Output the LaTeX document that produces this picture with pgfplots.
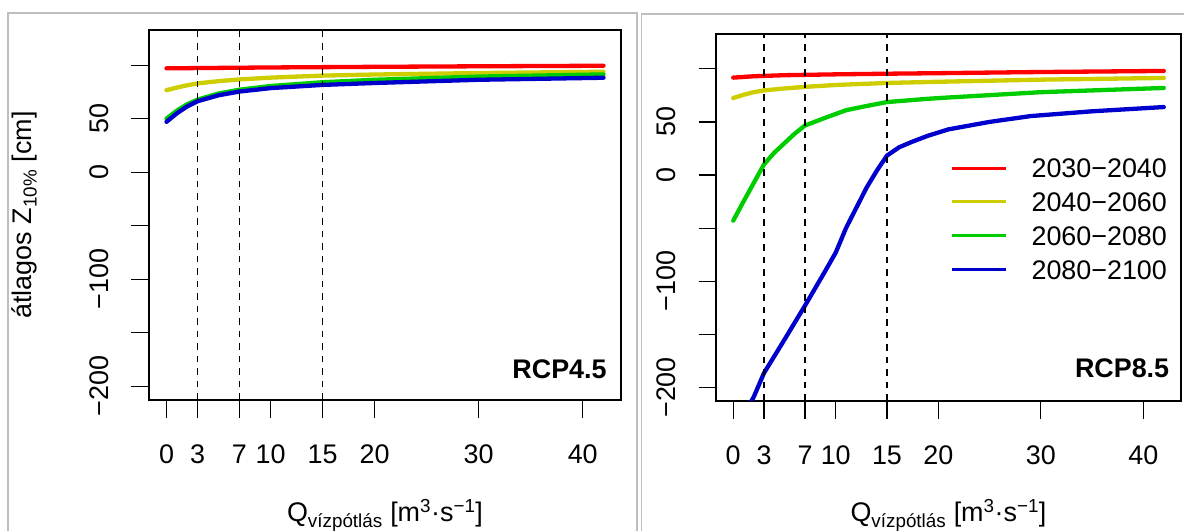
\documentclass[border=0pt]{standalone}
\usepackage{fontspec}
\setmainfont{Liberation Sans}
\usepackage{pgfplots}
\pgfplotsset{compat=1.18}
\definecolor{cRed}{HTML}{FF0000}
\definecolor{cYel}{HTML}{CDCD00}
\definecolor{cGrn}{HTML}{00CD00}
\definecolor{cBlu}{HTML}{0000CD}
\definecolor{frameg}{HTML}{BEBEBE}
\newcommand{\lbl}{\fontsize{27}{31}\selectfont}
\pgfplotsset{rstyle/.style={
  scale only axis,
  xmin=-1.68, xmax=43.68, ymin=-212.8, ymax=132.8,
  xtick={0,3,7,10,15,20,30,40}, xticklabels={0,3,7,10,15,20,30,40},
  ytick={-200,-150,-100,-50,0,50,100}, yticklabels={−200,,−100,,0,50,},
  tick pos=left, tick align=outside, major tick length=17.5bp,
  every tick/.style={black, line width=1.2bp},
  axis line style={line width=1.2bp},
  tick label style={font=\lbl, inner sep=0pt},
  xticklabel style={anchor=north},
  yticklabel style={rotate=90, anchor=south},
  xticklabel shift=27.5bp, yticklabel shift=22.3bp,
  label style={font=\lbl, inner sep=0pt},
  xlabel={Q\textsubscript{vízpótlás} [m\textsuperscript{3}·s\textsuperscript{−1}]},
  xlabel style={at={(axis description cs:0.5,-0.329)}, anchor=base},
  every axis plot/.append style={line width=4.3bp, line cap=round, line join=round},
  vline/.style={black, line width=1.3bp, dash pattern=on 6.5bp off 6bp, line cap=butt, forget plot},
}}
\begin{document}
\begin{tikzpicture}
\useasboundingbox (0,0) rectangle (1184bp,531bp);
\clip (0,0) rectangle (1184bp,531bp);
\draw[frameg, line width=1.5bp] (8bp,-10bp) -- (8bp,518bp) -- (637bp,518bp) -- (637bp,-10bp);
\draw[frameg, line width=1.5bp] (641.7bp,-10bp) -- (641.7bp,517bp) -- (1200bp,517bp);
% ---------- left panel RCP4.5
\begin{axis}[rstyle, at={(149bp,131bp)}, anchor=south west, width=472bp, height=370bp,
  ylabel={átlagos Z\textsubscript{10\%} [cm]},
  ylabel style={at={(axis description cs:-0.263,0.5)}, anchor=center}]
\addplot[cRed] coordinates {(0,97) (10,97.8) (20,98.4) (30,98.9) (42,99.4)};
\addplot[cYel] coordinates {(0,76.6) (1,79) (2,81.2) (3,82.9) (5,85) (7,86.6) (10,88.3) (15,90.2) (20,91.2) (30,92.6) (42,93.8)};
\addplot[cGrn] coordinates {(0,50) (1,57.5) (2,63.5) (3,67.8) (5,73.5) (7,77) (10,80.5) (15,84) (20,86.3) (30,89.3) (42,91.3)};
\addplot[cBlu] coordinates {(0,47) (1,55) (2,61.5) (3,66.3) (5,71.8) (7,75.3) (10,78.5) (15,81.5) (20,83.3) (30,86.3) (42,88.2)};
\addplot[vline] coordinates {(3,-212.8) (3,132.8)};
\addplot[vline] coordinates {(7,-212.8) (7,132.8)};
\addplot[vline] coordinates {(15,-212.8) (15,132.8)};
\node[anchor=east, inner sep=0pt, font=\lbl\bfseries] at (rel axis cs:0.970,0.083) {RCP4.5};
\end{axis}
% ---------- right panel RCP8.5
\begin{axis}[rstyle, at={(716bp,130bp)}, anchor=south west, width=465bp, height=367bp,
  legend cell align=left,
  legend style={draw=none, fill=none, at={(rel axis cs:0.5047,0.6613)}, anchor=north west,
    inner sep=0pt, font=\lbl, row sep=14.5bp, column sep=0pt,
    nodes={inner sep=0pt, text height=19.3bp, text depth=0pt}},
  legend image code/.code={\draw[#1, line width=3bp, line cap=butt] (0bp,0bp) -- (53.6bp,0bp); \path (77bp,0bp);}]
\addplot[cRed] coordinates {(0,91.7) (2,93) (5,94) (10,94.8) (15,95.4) (20,95.9) (30,97) (42,98)};
\addplot[cYel] coordinates {(0,72.5) (1,75.5) (2,78) (3,79.7) (5,81.5) (7,83) (10,84.8) (15,86.7) (20,87.8) (30,89.8) (42,91.4)};
\addplot[cGrn] coordinates {(0,-43) (1,-25) (2,-7.5) (3,10) (4,21) (5,30) (6,39) (7,46.6) (9,54) (11,61) (13,65) (15,68.7) (19,71.8) (21,73) (30,78) (42,82)};
\addplot[cBlu] coordinates {(0,-241) (1,-226) (2,-209) (3,-186.5) (5,-155) (7,-123) (9,-90) (10,-73) (11,-50) (12,-31) (13,-12) (14,4) (15,18.3) (16.2,26.2) (17.5,31.5) (19,37) (21,43) (25,50) (29,55.5) (35,60) (42,64)};
\addplot[vline] coordinates {(3,-212.8) (3,132.8)};
\addplot[vline] coordinates {(7,-212.8) (7,132.8)};
\addplot[vline] coordinates {(15,-212.8) (15,132.8)};
\legend{2030−2040,2040−2060,2060−2080,2080−2100}
\node[anchor=east, inner sep=0pt, font=\lbl\bfseries] at (rel axis cs:0.975,0.09) {RCP8.5};
\end{axis}
\end{tikzpicture}
\end{document}
